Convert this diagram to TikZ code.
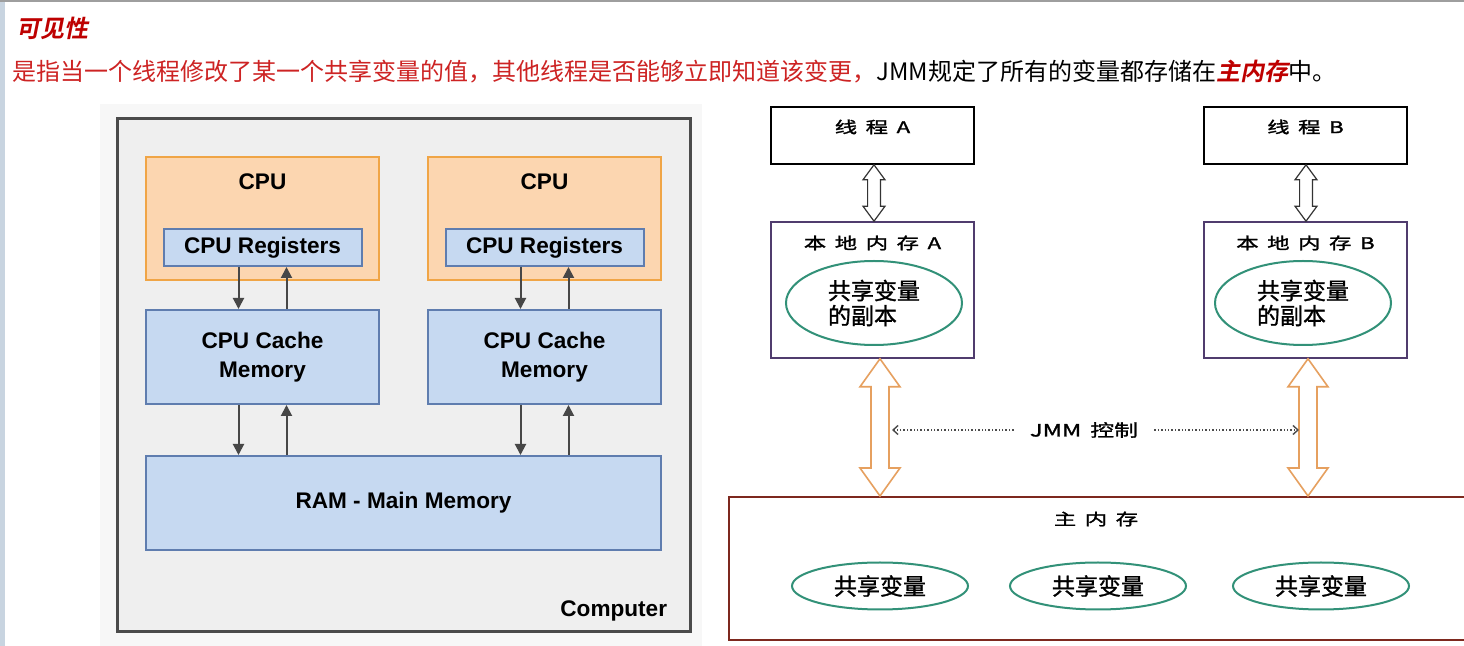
\documentclass[tikz,border=0pt]{standalone}
\usepackage{fontspec}
\setmainfont{Liberation Sans}
\newfontfamily\cjk{Noto Sans CJK SC}
\newfontfamily\cjkmed[FakeBold=1.2]{Noto Sans CJK SC}
\newfontfamily\cjkwide[FakeStretch=1.4,WordSpace=1.7,FakeBold=1.5]{Noto Sans CJK SC}
\newfontfamily\cjkbi[FakeSlant=0.2]{Noto Sans CJK SC Bold}
\usetikzlibrary{arrows.meta,positioning,calc,shapes.geometric}
\definecolor{txtred}{RGB}{205,35,35}
\definecolor{ttlred}{RGB}{190,0,0}
\definecolor{cpuor}{RGB}{252,214,176}
\definecolor{cpuorb}{RGB}{240,165,70}
\definecolor{memblue}{RGB}{198,217,241}
\definecolor{membl}{RGB}{95,125,175}
\definecolor{compgray}{RGB}{239,239,239}
\definecolor{compbd}{RGB}{75,75,75}
\definecolor{varteal}{RGB}{50,145,120}
\definecolor{locbd}{RGB}{80,60,110}
\definecolor{mainbd}{RGB}{125,40,30}
\definecolor{jmmor}{RGB}{230,160,95}
\definecolor{strip}{RGB}{200,212,224}

% hollow double arrow: top anchor, bottom anchor, half shaft, half head, head length, style
\newcommand{\hollowarr}[6]{%
  \draw[#6] let \p1=(#1), \p2=(#2) in
    (\x1,\y1) -- (\x1+#4,\y1-#5) -- (\x1+#3,\y1-#5) -- (\x1+#3,\y2+#5) -- (\x1+#4,\y2+#5)
    -- (\x1,\y2) -- (\x1-#4,\y2+#5) -- (\x1-#3,\y2+#5) -- (\x1-#3,\y1-#5) -- (\x1-#4,\y1-#5) -- cycle;}

\begin{document}
\begin{tikzpicture}[x=0.5pt,y=-0.5pt,
  hwtxt/.style={font=\fontsize{11.3}{13.5}\selectfont\bfseries,align=center,inner sep=0pt},
  cpubox/.style={draw=cpuorb,fill=cpuor,line width=1pt,minimum width=116.5pt,minimum height=61.5pt},
  regbox/.style={draw=membl,fill=memblue,line width=1pt,minimum width=99pt,minimum height=18.5pt,hwtxt},
  cachebox/.style={draw=membl,fill=memblue,line width=1pt,minimum width=116.5pt,minimum height=47pt,hwtxt,font=\fontsize{11.3}{14.5}\selectfont\bfseries},
  link/.style={-{Triangle[length=5.5pt,width=5.5pt]},draw=black!72,line width=1pt},
  thbox/.style={draw=black,line width=0.8pt,minimum width=101.5pt,minimum height=28.5pt},
  locbox/.style={draw=locbd,line width=0.8pt,minimum width=101.5pt,minimum height=68pt},
  wtxt/.style={font=\cjkwide\fontsize{8}{10}\selectfont,inner sep=0pt},
  copyell/.style={ellipse,draw=varteal,line width=1pt,minimum width=88pt,minimum height=42pt,align=left,inner sep=0pt,font=\cjkmed\fontsize{11.5}{12.5}\selectfont},
  varell/.style={ellipse,draw=varteal,line width=1pt,minimum width=88pt,minimum height=23.5pt,inner sep=0pt,font=\cjkmed\fontsize{11.5}{13}\selectfont},
  sync/.style={draw=black!80,line width=0.6pt,fill=white},
  bus/.style={draw=jmmor,line width=0.8pt,fill=white},
  ctl/.style={densely dotted,draw=black!70,line width=0.7pt,-{Straight Barb[length=2.5pt,width=4.5pt]}}]
% page
\fill[white] (0,0) rectangle (1464,646);
\fill[strip] (0,0) rectangle (5,646);
\fill[black!38] (0,0) rectangle (1464,2);
\fill[black!3] (100,104) rectangle (702,646);
\useasboundingbox (0,0) rectangle (1464,646);

% heading
\node[anchor=west,inner sep=0pt,text=ttlred,font=\cjkbi\fontsize{12}{14}\selectfont] (ttl) at (16,28) {可见性};
\node[anchor=west,inner sep=0pt,font=\cjk\fontsize{12}{14}\selectfont] (intro) at (12,72)
  {\textcolor{txtred}{是指当一个线程修改了某一个共享变量的值，其他线程是否能够立即知道该变更，}JMM规定了所有的变量都存储在\textcolor{ttlred}{\cjkbi 主内存}中。};

% hardware model
\node[draw=compbd,fill=compgray,line width=1.5pt,minimum width=286.5pt,minimum height=256.5pt] (comp) at (403.5,375.5) {};
\node[hwtxt,anchor=south east] (comptxt) at ([xshift=-12pt,yshift=6pt]comp.south east) {Computer};
\foreach \s/\cx in {L/262.5,R/544.5} {
  \node[cpubox] (cpu\s) at (\cx,218.5) {};
  \node[hwtxt,below=8.5pt of cpu\s.north] (cpulbl\s) {CPU};
  \node[regbox] (reg\s) at (\cx,247.5) {CPU Registers};
  \node[cachebox] (cache\s) at (\cx,357) {CPU Cache\\Memory};
}
\node[cachebox,minimum width=257.5pt] (ram) at (403.5,503) {RAM - Main Memory};
\foreach \s in {L,R} {
  \draw[link] ([xshift=-12pt]reg\s.south) -- ([xshift=-12pt]cache\s.north);
  \draw[link] ([xshift=12pt]cache\s.north) -- ([xshift=12pt]reg\s.south);
  \draw[link] ([xshift=-12pt]cache\s.south) -- ([xshift=-12pt]cache\s.south |- ram.north);
  \draw[link] ([xshift=12pt]cache\s.south |- ram.north) -- ([xshift=12pt]cache\s.south);
}

% JMM model
\foreach \s/\cx in {A/872.5,B/1305.5} {
  \node[thbox] (th\s) at (\cx,135.5) {};
  \node[wtxt,below=6.5pt of th\s.north] (thlbl\s) {线 程 \s};
  \node[locbox] (loc\s) at (\cx,290) {};
  \node[wtxt,below=7pt of loc\s.north] (loclbl\s) {本 地 内 存 \s};
}
\node[copyell] (cpyA) at (874,303) {共享变量\\的副本};
\node[copyell] (cpyB) at (1303,303) {共享变量\\的副本};
\node[draw=mainbd,line width=1pt,minimum width=375.5pt,minimum height=71.5pt] (mainmem) at (1104.5,568.5) {};
\node[wtxt] (mainlbl) at (1096,519) {主 内 存};
\node[varell] (var1) at (880,586) {共享变量};
\node[varell] (var2) at (1098,586) {共享变量};
\node[varell] (var3) at (1321,586) {共享变量};

\hollowarr{[xshift=0.75pt]thA.south}{locA.north}{3.2pt}{5.5pt}{7.5pt}{sync}
\hollowarr{[xshift=0.25pt]thB.south}{locB.north}{3.2pt}{5.5pt}{7.5pt}{sync}
\hollowarr{[xshift=3.75pt]locA.south}{mainmem.north}{4.5pt}{10pt}{14pt}{bus}
\hollowarr{[xshift=1.25pt]locB.south}{mainmem.north}{4.5pt}{10pt}{14pt}{bus}

\node[wtxt,font=\cjkwide\fontsize{8.5}{10}\selectfont,inner xsep=8pt] (jmm) at (1084,430) {JMM 控制};
\coordinate (ctlA) at (892,430);
\coordinate (ctlB) at (1299,430);
\draw[ctl] (jmm.west) -- (ctlA);
\draw[ctl] (jmm.east) -- (ctlB);
\end{tikzpicture}
\end{document}
